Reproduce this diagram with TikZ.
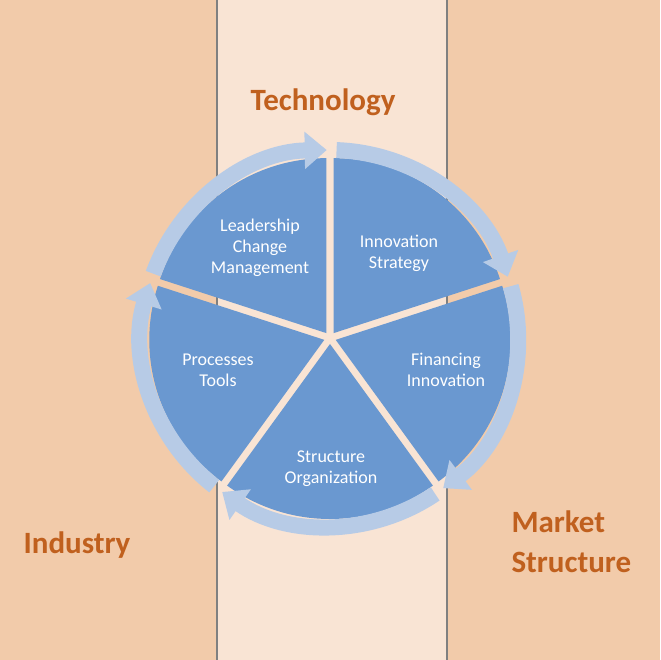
\documentclass[tikz,border=0pt]{standalone}
\usepackage{fontspec}
\setmainfont{Carlito}
\usetikzlibrary{arrows.meta,calc}
\definecolor{bg}{HTML}{F2CBAA}
\definecolor{band}{HTML}{F9E4D4}
\definecolor{sect}{HTML}{6A98D0}
\definecolor{ringc}{HTML}{B7CBE6}
\definecolor{titc}{HTML}{C0601E}
\tikzset{
  sector/.style={fill=sect,draw=none},
  ringarrow/.style={draw=ringc,line width=16pt,-{Triangle[width=36pt,length=22pt]}},
  lab/.style={text=white,font=\fontsize{18}{21}\selectfont,align=center},
  tit/.style={text=titc,font=\bfseries\fontsize{31}{40}\selectfont,align=left}
}
\begin{document}
\begin{tikzpicture}[x=1pt,y=1pt]
\useasboundingbox (0,0) rectangle (660,660);
\fill[bg] (0,0) rectangle (660,660);
\fill[band] (217,0) rectangle (447,660);
\draw[gray,line width=1.2pt] (217,0) -- (217,660) (447,0) -- (447,660);
\coordinate (c) at (330,322);
% sectors
\foreach \a/\b in {90/18,18/-54,-54/-126,-126/-198,162/90}{
  \pgfmathsetmacro{\m}{(\a+\b)/2}
  \fill[sector] ($(c)+(\m:6)$) -- ++(\a:175) arc[start angle=\a,end angle=\b,radius=175] -- cycle;
}
% ring arrows
\foreach \a/\b in {160/91,88/19,16/-53,-56/-125,-128/-197}{
  \draw[ringarrow] ($(c)+(\a:188)$) arc[start angle=\a,end angle=\b,radius=188];
}
\node[lab] (l1) at (260,412) {Leadership\\Change\\Management};
\node[lab] (l2) at (399,407) {Innovation\\Strategy};
\node[lab] (l3) at (446,290) {Financing\\Innovation};
\node[lab] (l4) at (218,290) {Processes\\Tools};
\node[lab] (l5) at (331,191) {Structure\\Organization};
\node[tit] (t1) at (323,558) {Technology};
\node[tit] (t2) at (77,115) {Industry};
\node[tit,anchor=west] (t3) at (508,118) {Market\\Structure};
\end{tikzpicture}
\end{document}
